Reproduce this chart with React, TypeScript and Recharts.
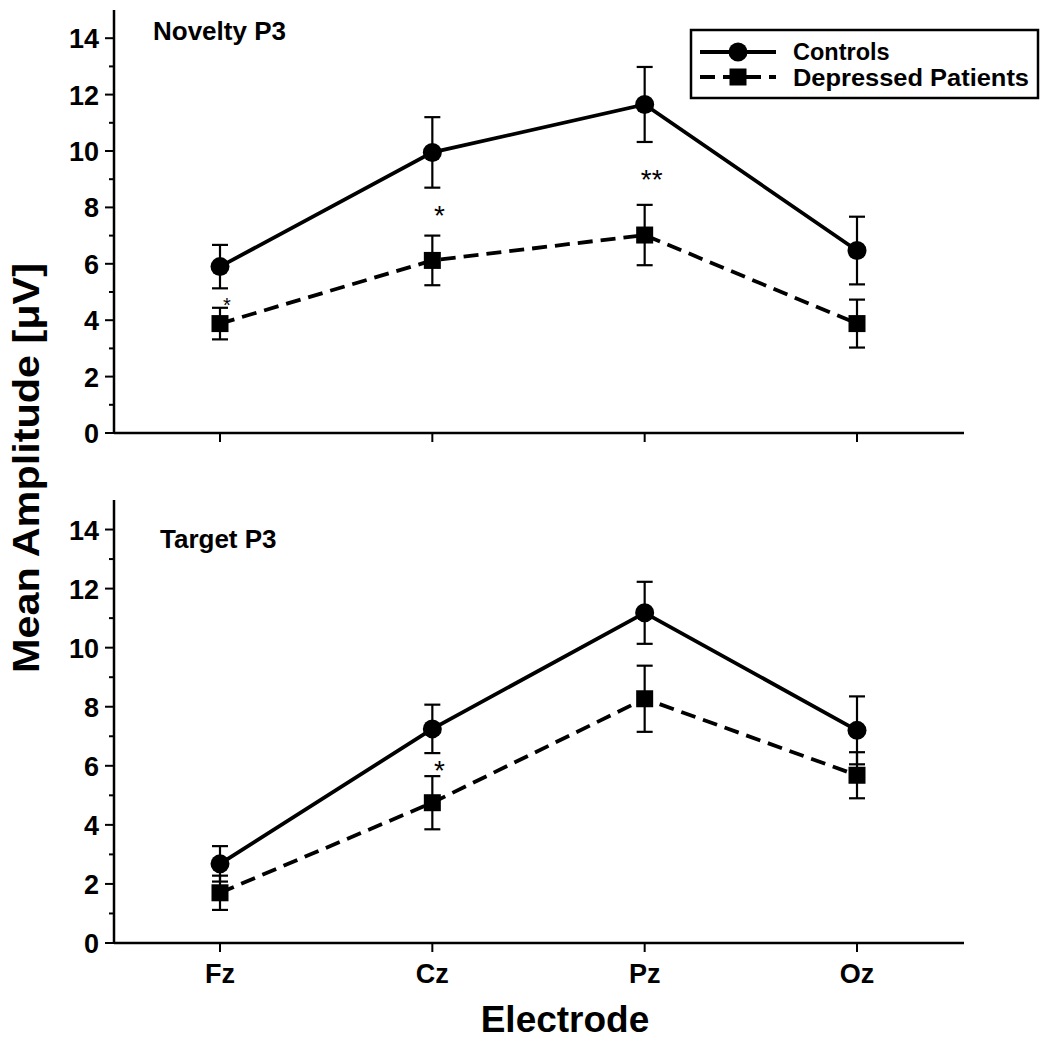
import React from 'react';
import {LineChart, Line, XAxis, YAxis, ErrorBar, ReferenceDot} from 'recharts';

const electrodes = ['Fz', 'Cz', 'Pz', 'Oz'];

// Novelty P3 (mean amplitude, uV) and error bar half-lengths
const noveltyControls = [5.9, 9.95, 11.65, 6.47];
const noveltyControlsErr = [0.77, 1.25, 1.33, 1.2];
const noveltyDepressed = [3.88, 6.12, 7.02, 3.88];
const noveltyDepressedErr = [0.56, 0.88, 1.07, 0.85];

// Target P3
const targetControls = [2.68, 7.25, 11.18, 7.2];
const targetControlsErr = [0.6, 0.82, 1.05, 1.15];
const targetDepressed = [1.7, 4.75, 8.27, 5.68];
const targetDepressedErr = [0.58, 0.9, 1.12, 0.78];

// significance markers: electrode, amplitude where the star sits, text
const noveltyStars = [
	{x: 'Fz', y: 4.72, text: '*'},
	{x: 'Cz', y: 7.98, text: '*'},
	{x: 'Pz', y: 9.26, text: '**'},
];
const targetStars = [{x: 'Cz', y: 6.1, text: '*'}];

const yTicks = [0, 1, 2, 3, 4, 5, 6, 7, 8, 9, 10, 11, 12, 13, 14];

const FONT = "'Liberation Sans', Arial, Helvetica, sans-serif";

const buildRows = (c: number[], cErr: number[], d: number[], dErr: number[]) =>
	electrodes.map((name, i) => ({
		name,
		controls: c[i],
		controlsErr: cErr[i],
		depressed: d[i],
		depressedErr: dErr[i],
	}));

const noveltyRows = buildRows(noveltyControls, noveltyControlsErr, noveltyDepressed, noveltyDepressedErr);
const targetRows = buildRows(targetControls, targetControlsErr, targetDepressed, targetDepressedErr);

const YTick = (props: any) => {
	const {x, y, payload} = props;
	const major = payload.value % 2 === 0;
	return (
		<g>
			<line x1={x - (major ? 9 : 5)} x2={x} y1={y} y2={y} stroke='#000' strokeWidth={2}/>
			{major && (
				<text x={x - 15} y={y + 10} textAnchor='end' fontSize={27} fontWeight='bold' fontFamily={FONT} fill='#000'>
					{payload.value}
				</text>
			)}
		</g>
	);
};

const makeXTick = (showLabel: boolean) => (props: any) => {
	const {x, y, payload} = props;
	return (
		<g>
			<line x1={x} x2={x} y1={y} y2={y + 9} stroke='#000' strokeWidth={2}/>
			{showLabel && (
				<text x={x} y={y + 40} textAnchor='middle' fontSize={27} fontWeight='bold' fontFamily={FONT} fill='#000'>
					{payload.value}
				</text>
			)}
		</g>
	);
};

const CircleDot = (props: any) => (
	<circle key={'c' + props.index} cx={props.cx} cy={props.cy} r={9.5} fill='#000'/>
);

const SquareDot = (props: any) => (
	<rect key={'s' + props.index} x={props.cx - 8.5} y={props.cy - 8.5} width={17} height={17} fill='#000'/>
);

// stars sit a little to the right of the electrode in the original figure
const Star = (size: number, text: string) => (props: any) => (
	<text x={props.cx + 7} y={props.cy + size * 0.6} textAnchor='middle' fontSize={size} fontFamily={FONT} fill='#000'>
		{text}
	</text>
);

function Panel({rows, stars, showLabels, height, top, xHeight}: any) {
	return (
		<LineChart
			width={1047}
			height={height}
			data={rows}
			margin={{top, right: 83, bottom: 0, left: 0}}
		>
			<XAxis
				dataKey='name'
				height={xHeight}
				padding={{left: 106, right: 107}}
				axisLine={{stroke: '#000', strokeWidth: 2.5}}
				tickLine={false}
				tickSize={0}
				tickMargin={0}
				tick={makeXTick(showLabels)}
				interval={0}
			/>
			<YAxis
				type='number'
				domain={[0, 15]}
				ticks={yTicks}
				interval={0}
				width={114}
				axisLine={{stroke: '#000', strokeWidth: 2.5}}
				tickLine={false}
				tickSize={0}
				tickMargin={0}
				tick={YTick}
			/>
			<Line
				dataKey='controls'
				stroke='#000'
				strokeWidth={3.8}
				dot={CircleDot}
				activeDot={false}
				isAnimationActive={false}
			>
				<ErrorBar dataKey='controlsErr' width={8} stroke='#000' strokeWidth={2.2} direction='y' isAnimationActive={false}/>
			</Line>
			<Line
				dataKey='depressed'
				stroke='#000'
				strokeWidth={3.8}
				strokeDasharray='15 8'
				dot={SquareDot}
				activeDot={false}
				isAnimationActive={false}
			>
				<ErrorBar dataKey='depressedErr' width={8} stroke='#000' strokeWidth={2.2} direction='y' isAnimationActive={false}/>
			</Line>
			{stars.map((s: any, i: number) => (
				<ReferenceDot
					key={i}
					x={s.x}
					y={s.y}
					r={0}
					shape={Star(s.x === 'Fz' ? 20 : 28, s.text)}
				/>
			))}
		</LineChart>
	);
}

export default function App() {
	const txt = {fontFamily: FONT, fontWeight: 'bold' as const, fill: '#000'};
	return (
		<div style={{position: 'absolute', left: 0, top: 0, width: 1047, height: 1050, background: '#fff'}}>
			<div style={{position: 'absolute', left: 0, top: 0}}>
				<Panel rows={noveltyRows} stars={noveltyStars} showLabels={false} height={470} top={10} xHeight={37}/>
			</div>
			<div style={{position: 'absolute', left: 0, top: 480}}>
				<Panel rows={targetRows} stars={targetStars} showLabels={true} height={520} top={20} xHeight={57}/>
			</div>
			<svg width={1047} height={1050} style={{position: 'absolute', left: 0, top: 0, pointerEvents: 'none'}}>
				<text x={153} y={40} fontSize={26} {...txt}>Novelty P3</text>
				<text x={160} y={548} fontSize={26} {...txt}>Target P3</text>
				<text
					x={0}
					y={0}
					fontSize={37}
					textAnchor='middle'
					textLength={410}
					lengthAdjust='spacingAndGlyphs'
					transform='translate(39 468) rotate(-90)'
					{...txt}
				>
					Mean Amplitude [μV]
				</text>
				<text x={565} y={1032} fontSize={37} textAnchor='middle' {...txt}>Electrode</text>
				<g>
					<rect x={691} y={30} width={347} height={68} fill='#fff' stroke='#000' strokeWidth={2.5}/>
					<line x1={700} x2={776} y1={52} y2={52} stroke='#000' strokeWidth={3.8}/>
					<circle cx={738} cy={52} r={9.5} fill='#000'/>
					<text x={793} y={60} fontSize={23.5} {...txt}>Controls</text>
					<line x1={700} x2={776} y1={77} y2={77} stroke='#000' strokeWidth={3.8} strokeDasharray='15 8'/>
					<rect x={729.5} y={68.5} width={17} height={17} fill='#000'/>
					<text x={793} y={86} fontSize={23.5} textLength={236} lengthAdjust='spacingAndGlyphs' {...txt}>
						Depressed Patients
					</text>
				</g>
			</svg>
		</div>
	);
}
